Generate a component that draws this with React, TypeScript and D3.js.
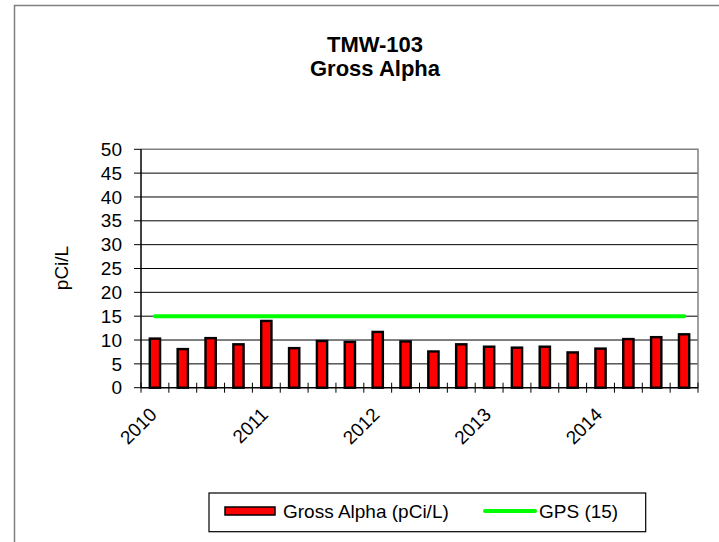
import React from "react";
import * as d3 from "d3";

const categories = [
  "2010 Q1", "2010 Q2", "2010 Q3", "2010 Q4",
  "2011 Q1", "2011 Q2", "2011 Q3", "2011 Q4",
  "2012 Q1", "2012 Q2", "2012 Q3", "2012 Q4",
  "2013 Q1", "2013 Q2", "2013 Q3", "2013 Q4",
  "2014 Q1", "2014 Q2", "2014 Q3", "2014 Q4",
];
const xTickLabels = ["2010", "", "", "", "2011", "", "", "", "2012", "", "", "", "2013", "", "", "", "2014", "", "", ""];
const grossAlpha = [10.3, 8.1, 10.4, 9.1, 14.0, 8.3, 9.8, 9.6, 11.7, 9.7, 7.6, 9.1, 8.6, 8.4, 8.6, 7.4, 8.2, 10.2, 10.6, 11.2];
const gpsValue = 15;
const yTicks = [0, 5, 10, 15, 20, 25, 30, 35, 40, 45, 50];
const titleLines = ["TMW-103", "Gross Alpha"];
const yAxisTitle = "pCi/L";
const seriesNames = ["Gross Alpha (pCi/L)", "GPS (15)"];

const W = 719;
const H = 542;
const plot = { left: 141, right: 698, top: 149.3, bottom: 387.7 };
const font = "Arial, 'Liberation Sans', sans-serif";

export default function App() {
  const x = d3.scaleBand<string>().domain(categories).range([plot.left, plot.right]).paddingInner(0).paddingOuter(0);
  const y = d3.scaleLinear().domain([0, 50]).range([plot.bottom, plot.top]);
  const barStroke = 2.4;
  const bw = x.bandwidth() / 2.2 - barStroke;
  const first = categories[0];
  const last = categories[categories.length - 1];
  const boundaries = d3.range(categories.length + 1).map((i) => plot.left + i * x.bandwidth());

  return (
    <svg width={W} height={H} style={{ position: "absolute", left: 0, top: 0, background: "#fff" }} fontFamily={font}>
      <rect x={0} y={0} width={W} height={H} fill="#fff" />
      {/* outer chart border */}
      <path d={`M14.5,${H + 2} V5.5 H${W + 2}`} fill="none" stroke="#808080" strokeWidth={1.5} />

      {/* title */}
      <text x={375} y={52} textAnchor="middle" fontWeight="bold" fontSize={22}>{titleLines[0]}</text>
      <text x={375} y={76} textAnchor="middle" fontWeight="bold" fontSize={22}>{titleLines[1]}</text>

      {/* gridlines */}
      {yTicks.filter((t) => t > 0 && t < 50).map((t) => (
        <line key={t} x1={plot.left} x2={plot.right} y1={y(t)} y2={y(t)} stroke="#000" strokeWidth={1} />
      ))}
      {/* plot border top/right */}
      <path d={`M${plot.left},${y(50)} H${plot.right} V${plot.bottom}`} fill="none" stroke="#808080" strokeWidth={1.5} />

      {/* bars */}
      {categories.map((c, i) => {
        const cx = (x(c) as number) + x.bandwidth() / 2;
        return (
          <rect key={c} x={cx - bw / 2} y={y(grossAlpha[i])} width={bw} height={plot.bottom - y(grossAlpha[i])}
            fill="#ff0000" stroke="#000" strokeWidth={barStroke} />
        );
      })}

      {/* GPS line */}
      <line x1={(x(first) as number) + x.bandwidth() / 2} x2={(x(last) as number) + x.bandwidth() / 2}
        y1={y(gpsValue)} y2={y(gpsValue)} stroke="#00ff00" strokeWidth={4} strokeLinecap="round" />

      {/* y axis */}
      <line x1={plot.left} x2={plot.left} y1={plot.top} y2={plot.bottom} stroke="#000" strokeWidth={1.5} />
      {yTicks.map((t) => (
        <g key={t}>
          <line x1={plot.left - 7} x2={plot.left} y1={y(t)} y2={y(t)} stroke="#000" strokeWidth={1} />
          <text x={122} y={y(t)} dy="0.35em" textAnchor="end" fontSize={19}>{t}</text>
        </g>
      ))}
      <text transform={`translate(68,268) rotate(-90)`} textAnchor="middle" fontSize={19}>{yAxisTitle}</text>

      {/* x axis */}
      <line x1={plot.left} x2={plot.right} y1={plot.bottom} y2={plot.bottom} stroke="#000" strokeWidth={1.5} />
      {boundaries.map((bx, i) => (
        <line key={i} x1={bx} x2={bx} y1={plot.bottom - 5} y2={plot.bottom + 5} stroke="#000" strokeWidth={1} />
      ))}
      {categories.map((c, i) =>
        xTickLabels[i] ? (
          <text key={c} transform={`translate(${(x(c) as number) + x.bandwidth() / 2 + 3},${plot.bottom + 28}) rotate(-45)`}
            textAnchor="end" fontSize={19}>{xTickLabels[i]}</text>
        ) : null
      )}

      {/* legend */}
      <rect x={209} y={493} width={436.7} height={38.7} fill="#fff" stroke="#000" strokeWidth={1.2} />
      <rect x={225} y={507} width={50} height={8} fill="#ff0000" stroke="#000" strokeWidth={1.5} />
      <text x={283} y={518} fontSize={19}>{seriesNames[0]}</text>
      <line x1={485} x2={535} y1={511} y2={511} stroke="#00ff00" strokeWidth={4} strokeLinecap="round" />
      <text x={539} y={518} fontSize={19}>{seriesNames[1]}</text>
    </svg>
  );
}
